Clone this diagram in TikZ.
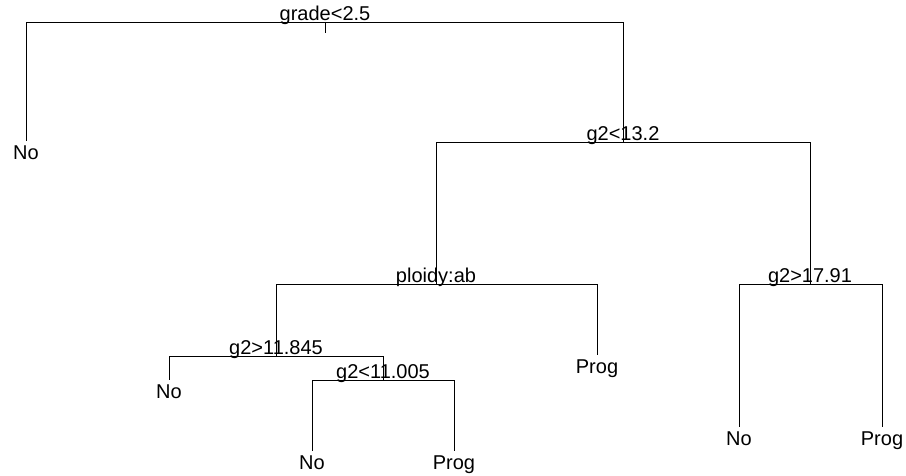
\documentclass[tikz,border=0pt]{standalone}
\usepackage{fontspec}
\setmainfont{Liberation Sans}
\usepackage{tikz}

\begin{document}
\begin{tikzpicture}[x=1pt, y=-1pt, line width=0.8pt,
    splitlab/.style={anchor=base, inner sep=0pt, font=\fontsize{20}{24}\selectfont},
    leaf/.style={anchor=north, inner sep=4.5pt, font=\fontsize{20}{24}\selectfont}]
    \useasboundingbox (0,0) rectangle (906,476);

    % split points
    \coordinate (n1) at (325,22);
    \coordinate (n2) at (623,142);
    \coordinate (n3) at (436,284);
    \coordinate (n4) at (810,284);
    \coordinate (n5) at (276,356);
    \coordinate (n6) at (383,380);
    \coordinate (stub) at (325,33);

    \node[splitlab] (t1) at ([yshift=1.5pt]n1) {grade<2.5};
    \node[splitlab] (t2) at ([yshift=1.5pt]n2) {g2<13.2};
    \node[splitlab] (t3) at ([yshift=1.5pt]n3) {ploidy:ab};
    \node[splitlab] (t4) at ([yshift=1.5pt]n4) {g2>17.91};
    \node[splitlab] (t5) at ([yshift=1.5pt]n5) {g2>11.845};
    \node[splitlab] (t6) at ([yshift=1.5pt]n6) {g2<11.005};

    % leaves
    \node[leaf] (l1) at (26,141) {No};
    \node[leaf] (l2) at (597,355) {Prog};
    \node[leaf] (l3) at (169,380) {No};
    \node[leaf] (l4) at (312,451) {No};
    \node[leaf] (l5) at (454,451) {Prog};
    \node[leaf] (l6) at (739,427) {No};
    \node[leaf] (l7) at (882,427) {Prog};

    \draw (n1) -- (stub);
    \draw (n1) -| (l1.north);
    \draw (n1) -| (n2);
    \draw (n2) -| (n3);
    \draw (n2) -| (n4);
    \draw (n3) -| (n5);
    \draw (n3) -| (l2.north);
    \draw (n5) -| (l3.north);
    \draw (n5) -| (n6);
    \draw (n6) -| (l4.north);
    \draw (n6) -| (l5.north);
    \draw (n4) -| (l6.north);
    \draw (n4) -| (l7.north);
\end{tikzpicture}
\end{document}
